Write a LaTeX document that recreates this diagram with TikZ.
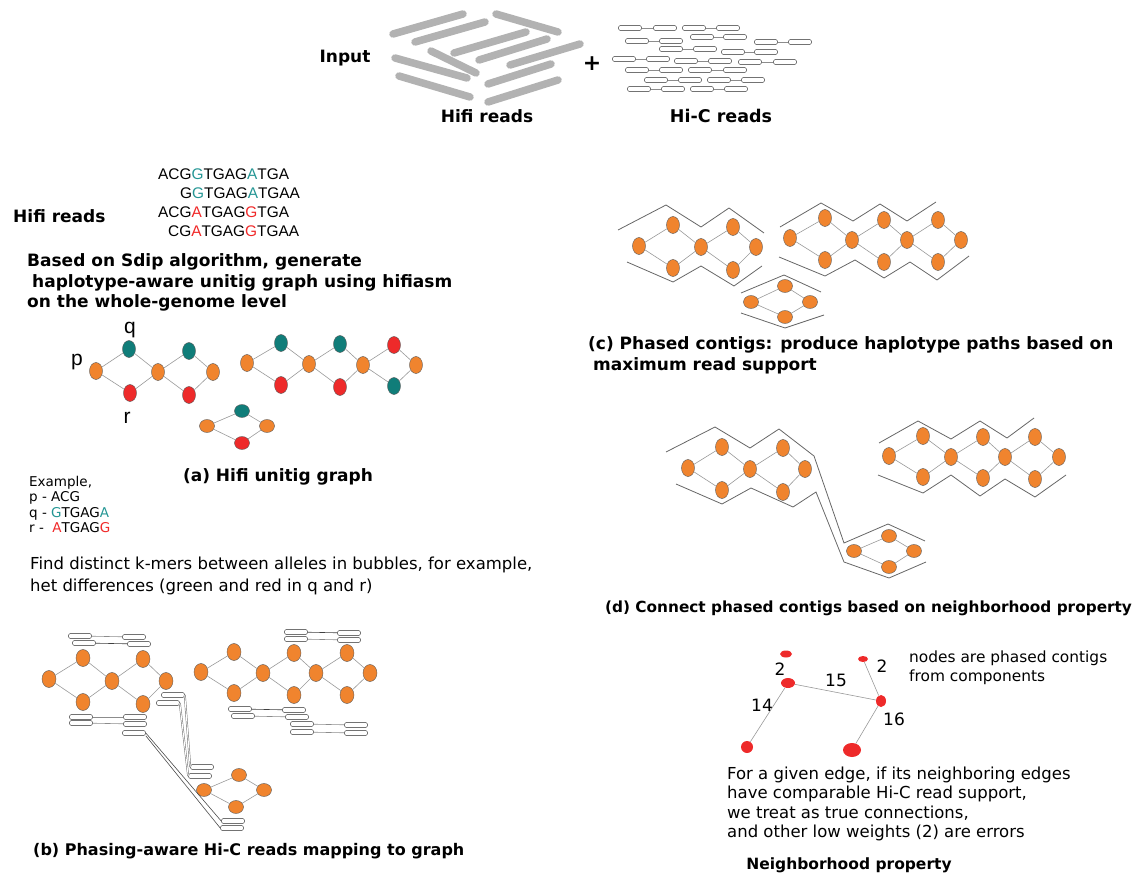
\documentclass[tikz,border=0pt]{standalone}
\usepackage{fontspec}
\setmainfont{DejaVu Sans}
\newfontfamily\arialfont{Liberation Sans}
\usetikzlibrary{shapes.geometric}
\definecolor{nodeorange}{RGB}{240,132,46}
\definecolor{nodeteal}{RGB}{16,125,121}
\definecolor{nodered}{RGB}{238,42,42}
\definecolor{seqteal}{RGB}{36,150,148}
\definecolor{seqred}{RGB}{240,40,40}
\definecolor{hifigray}{RGB}{178,178,178}

\tikzset{
  gnode/.style={ellipse, draw=black!65, line width=0.4pt, inner sep=0pt, minimum width=13pt, minimum height=17pt},
  orangenode/.style={gnode, fill=nodeorange},
  tealnode/.style={gnode, fill=nodeteal},
  rednode/.style={gnode, fill=nodered},
  flat/.style={minimum width=15pt, minimum height=13pt},
  graphedge/.style={draw=black!40, line width=0.6pt},
  pathline/.style={draw=black!60, line width=0.8pt},
  hifibar/.style={draw=hifigray, line width=7.5pt, line cap=round},
  hicread/.style={draw=black!55, line width=0.6pt, fill=white, rounded corners=1.5pt, minimum width=23pt, minimum height=5pt, inner sep=0pt},
  pairline/.style={draw=black!45, line width=0.6pt},
  longlink/.style={draw=black!60, double=white, double distance=1pt, line width=0.45pt},
  caption/.style={font=\fontsize{17}{20.5}\selectfont\bfseries, inner sep=0pt},
  bodytext/.style={font=\fontsize{16.5}{22}\selectfont, inner sep=0pt, anchor=west, align=left},
  seq/.style={font=\arialfont\fontsize{15.4}{18}\selectfont, inner sep=0pt, anchor=west},
  letter/.style={font=\arialfont\fontsize{21}{24}\selectfont, inner sep=0pt},
  weight/.style={font=\fontsize{17}{20}\selectfont, inner sep=0pt},
  contig/.style={ellipse, fill=nodered, inner sep=0pt}
}

\begin{document}
\begin{tikzpicture}[x=1pt,y=1pt,yscale=-1]
\useasboundingbox (0,0) rectangle (1137,877);

% Input
\node[caption] (input) at (345,58) {Input};
\draw[hifibar] (393,34) -- (463,14);
\draw[hifibar] (415,42) -- (485,22);
\draw[hifibar] (496,14) -- (558,32);
\draw[hifibar] (454,53) -- (526,32);
\draw[hifibar] (479,60) -- (547,39);
\draw[hifibar] (431,51) -- (476,73);
\draw[hifibar] (395,58) -- (467,78);
\draw[hifibar] (510,65) -- (580,44);
\draw[hifibar] (399,76) -- (470,97);
\draw[hifibar] (488,84) -- (551,64);
\draw[hifibar] (488,102) -- (558,80);
\node[font=\fontsize{22}{22}\selectfont\bfseries, inner sep=0pt] (plus) at (592,64) {+};

% Hi-C read pairs
\node[hicread] (t1) at (630,28) {}; \node[hicread] (t2) at (665,28) {}; \draw[pairline] (t1) -- (t2);
\node[hicread] (t3) at (694,28) {}; \node[hicread] (t4) at (728,28) {}; \draw[pairline] (t3) -- (t4);
\node[hicread] (t5) at (637,41) {}; \node[hicread] (t6) at (671,41) {}; \draw[pairline] (t5) -- (t6);
\node[hicread] (t7) at (702,37) {}; \node[hicread] (t8) at (735,37) {}; \draw[pairline] (t7) -- (t8);
\node[hicread] (t9) at (766,42) {}; \node[hicread] (t10) at (800,42) {}; \draw[pairline] (t9) -- (t10);
\node[hicread] (t11) at (671,49) {}; \node[hicread] (t12) at (705,49) {}; \draw[pairline] (t11) -- (t12);
\node[hicread] (t13) at (733,52) {}; \node[hicread] (t14) at (766,52) {}; \draw[pairline] (t13) -- (t14);
\node[hicread] (t15) at (624,59) {}; \node[hicread] (t16) at (658,59) {}; \draw[pairline] (t15) -- (t16);
\node[hicread] (t17) at (686,61) {}; \node[hicread] (t18) at (720,61) {}; \draw[pairline] (t17) -- (t18);
\node[hicread] (t19) at (750,62) {}; \node[hicread] (t20) at (785,62) {}; \draw[pairline] (t19) -- (t20);
\node[hicread] (t21) at (637,70) {}; \node[hicread] (t22) at (671,70) {}; \draw[pairline] (t21) -- (t22);
\node[hicread] (t23) at (700,70) {}; \node[hicread] (t24) at (735,70) {}; \draw[pairline] (t23) -- (t24);
\node[hicread] (t25) at (656,80) {}; \node[hicread] (t26) at (690,80) {}; \draw[pairline] (t25) -- (t26);
\node[hicread] (t27) at (719,80) {}; \node[hicread] (t28) at (753,80) {}; \draw[pairline] (t27) -- (t28);
\node[hicread] (t29) at (639,89) {}; \node[hicread] (t30) at (673,89) {}; \draw[pairline] (t29) -- (t30);
\node[hicread] (t31) at (702,89) {}; \node[hicread] (t32) at (736,89) {}; \draw[pairline] (t31) -- (t32);

\node[caption] (hifilabel) at (487,116) {Hifi reads};
\node[caption, font=\fontsize{17.5}{20.5}\selectfont\bfseries] (hiclabel) at (721,116) {Hi-C reads};

% (a) reads and unitig graph
\node[caption, anchor=west] (readslabel) at (13,216) {Hifi reads};
\node[seq] (s1) at (158,174) {ACG\textcolor{seqteal}{G}TGAG\textcolor{seqteal}{A}TGA};
\node[seq] (s2) at (180,193) {G\textcolor{seqteal}{G}TGAG\textcolor{seqteal}{A}TGAA};
\node[seq] (s3) at (158,212) {ACG\textcolor{seqred}{A}TGAG\textcolor{seqred}{G}TGA};
\node[seq] (s4) at (168,231) {CG\textcolor{seqred}{A}TGAG\textcolor{seqred}{G}TGAA};
\node[caption, anchor=west, align=left] (sdip) at (27,282.5) {Based on Sdip algorithm, generate\\\hspace{5pt}haplotype-aware unitig graph using hifiasm\\on the whole-genome level};

\node[orangenode] (a1) at (96,371) {};
\node[tealnode] (a2) at (129,349) {};
\node[rednode] (a3) at (130,393) {};
\node[orangenode] (a4) at (158,372) {};
\node[tealnode] (a5) at (189,351) {};
\node[rednode] (a6) at (189,395) {};
\node[orangenode] (a7) at (213,372) {};
\draw[graphedge] (a1) -- (a2) -- (a4) -- (a5) -- (a7) -- (a6) -- (a4) -- (a3) -- (a1);
\node[letter] (lp) at (77,362) {p};
\node[letter] (lq) at (130,330) {q};
\node[letter] (lr) at (127,418) {r};

\node[orangenode] (ab1) at (247,363) {};
\node[tealnode] (ab2) at (281,343) {};
\node[rednode] (ab3) at (281,385) {};
\node[orangenode] (ab4) at (309,364) {};
\node[tealnode] (ab5) at (340,344) {};
\node[rednode] (ab6) at (340,387) {};
\node[orangenode] (ab7) at (363,365) {};
\node[rednode] (ab8) at (394,345) {};
\node[tealnode] (ab9) at (394,386) {};
\node[orangenode] (ab10) at (416,365) {};
\draw[graphedge] (ab1) -- (ab2) -- (ab4) -- (ab5) -- (ab7) -- (ab8) -- (ab10) -- (ab9) -- (ab7) -- (ab6) -- (ab4) -- (ab3) -- (ab1);

\node[orangenode, flat] (ac1) at (207,426) {};
\node[tealnode, flat] (ac2) at (242,411) {};
\node[rednode, flat] (ac3) at (242,443) {};
\node[orangenode, flat] (ac4) at (267,426) {};
\draw[graphedge] (ac1) -- (ac2) -- (ac4) -- (ac3) -- (ac1);

\node[caption] (capa) at (278,477) {(a) Hifi unitig graph};
\node[bodytext, font=\fontsize{13.5}{15.6}\selectfont] (example) at (29,504.5) {Example,\\p - ACG\\q - \textcolor{seqteal}{G}TGAG\textcolor{seqteal}{A}\\r -\ \ \textcolor{seqred}{A}TGAG\textcolor{seqred}{G}};
\node[bodytext] (kmers) at (30,576) {Find distinct k-mers between alleles in bubbles, for example,\\het differences (green and red in q and r)};

% (b) Hi-C reads on graph
\node[orangenode, minimum width=14pt] (ba1) at (49,679) {};
\node[orangenode, minimum width=14pt] (ba2) at (83,658) {};
\node[orangenode, minimum width=14pt] (ba3) at (83,702) {};
\node[orangenode, minimum width=14pt] (ba4) at (112,681) {};
\node[orangenode, minimum width=14pt] (ba5) at (143,659) {};
\node[orangenode, minimum width=14pt] (ba6) at (143,704) {};
\node[orangenode, minimum width=14pt] (ba7) at (166,681) {};
\draw[graphedge] (ba1) -- (ba2) -- (ba4) -- (ba5) -- (ba7) -- (ba6) -- (ba4) -- (ba3) -- (ba1);

\node[orangenode, minimum width=14pt] (bb1) at (201,672) {};
\node[orangenode, minimum width=14pt] (bb2) at (234,652) {};
\node[orangenode, minimum width=14pt] (bb3) at (234,693) {};
\node[orangenode, minimum width=14pt] (bb4) at (263,673) {};
\node[orangenode, minimum width=14pt] (bb5) at (294,653) {};
\node[orangenode, minimum width=14pt] (bb6) at (294,695) {};
\node[orangenode, minimum width=14pt] (bb7) at (316,673) {};
\node[orangenode, minimum width=14pt] (bb8) at (347,653) {};
\node[orangenode, minimum width=14pt] (bb9) at (347,695) {};
\node[orangenode, minimum width=14pt] (bb10) at (370,673) {};
\draw[graphedge] (bb1) -- (bb2) -- (bb4) -- (bb5) -- (bb7) -- (bb8) -- (bb10) -- (bb9) -- (bb7) -- (bb6) -- (bb4) -- (bb3) -- (bb1);

\node[orangenode, flat] (bc1) at (204,790) {};
\node[orangenode, flat] (bc2) at (239,775) {};
\node[orangenode, flat] (bc3) at (236,807) {};
\node[orangenode, flat] (bc4) at (264,790) {};
\draw[graphedge] (bc1) -- (bc2) -- (bc4) -- (bc3) -- (bc1);

\node[hicread] (r1) at (80,636) {}; \node[hicread] (r2) at (134,637) {}; \draw[pairline] (r1) -- (r2);
\node[hicread] (r3) at (84,643) {}; \node[hicread] (r4) at (139,644) {}; \draw[pairline, draw=black!75] (r3) -- (r4);
\node[hicread] (r5) at (81,717) {}; \node[hicread] (r6) at (135,717) {}; \draw[pairline] (r5) -- (r6);
\node[hicread] (r7) at (81,723) {}; \node[hicread] (r8) at (135,724) {}; \draw[pairline] (r7) -- (r8);
\node[hicread] (r9) at (134,733) {};
\node[hicread] (u1) at (173,695) {};
\node[hicread] (u2) at (168,703) {};
\node[hicread] (v1) at (202,767) {};
\node[hicread] (v2) at (200,776) {};
\node[hicread] (w1) at (233,821) {};
\node[hicread] (w2) at (232,828) {};
\draw[longlink] (u1.east) -- (v1.west);
\draw[longlink] (u2.east) -- (v2.west);
\draw[pairline, draw=black!70] (r9.east) -- (w1.west);
\draw[pairline, draw=black!70] (r9.south east) -- (w2.west);
\node[hicread] (r10) at (296,632) {}; \node[hicread] (r11) at (349,633) {}; \draw[pairline, draw=black!75] (r10) -- (r11);
\node[hicread] (r12) at (296,639) {}; \node[hicread] (r13) at (349,640) {}; \draw[pairline] (r12) -- (r13);
\node[hicread] (r14) at (240,709) {}; \node[hicread] (r15) at (294,710) {}; \draw[pairline, draw=black!75] (r14) -- (r15);
\node[hicread] (r16) at (243,716) {}; \node[hicread] (r17) at (297,717) {}; \draw[pairline] (r16) -- (r17);
\node[hicread] (r18) at (302,724) {}; \node[hicread] (r19) at (356,725) {}; \draw[pairline] (r18) -- (r19);
\node[hicread] (r20) at (302,732) {}; \node[hicread] (r21) at (356,733) {}; \draw[pairline] (r20) -- (r21);

\node[caption, anchor=west, font=\fontsize{16}{20}\selectfont\bfseries] (capb) at (33,851) {(b) Phasing-aware Hi-C reads mapping to graph};

% (c) phased contigs
\node[orangenode] (ca1) at (639,246) {};
\node[orangenode] (ca2) at (673,225) {};
\node[orangenode] (ca3) at (673,268) {};
\node[orangenode] (ca4) at (701,247) {};
\node[orangenode] (ca5) at (733,227) {};
\node[orangenode] (ca6) at (733,270) {};
\node[orangenode] (ca7) at (756,247) {};
\draw[graphedge] (ca1) -- (ca2) -- (ca4) -- (ca5) -- (ca7) -- (ca6) -- (ca4) -- (ca3) -- (ca1);
\draw[pathline] (618,230) -- (666,205) -- (701,227) -- (729,208) -- (764,233);
\draw[pathline] (627,262) -- (673,282) -- (701,266) -- (734,286) -- (762,266);

\node[orangenode] (cb1) at (790,238) {};
\node[orangenode] (cb2) at (825,218) {};
\node[orangenode] (cb3) at (825,260) {};
\node[orangenode] (cb4) at (852,240) {};
\node[orangenode] (cb5) at (884,220) {};
\node[orangenode] (cb6) at (884,262) {};
\node[orangenode] (cb7) at (907,240) {};
\node[orangenode] (cb8) at (938,220) {};
\node[orangenode] (cb9) at (938,262) {};
\node[orangenode] (cb10) at (961,240) {};
\draw[graphedge] (cb1) -- (cb2) -- (cb4) -- (cb5) -- (cb7) -- (cb8) -- (cb10) -- (cb9) -- (cb7) -- (cb6) -- (cb4) -- (cb3) -- (cb1);
\draw[pathline] (780,227) -- (821,203) -- (853,221) -- (880,204) -- (907,221) -- (936,202);
\draw[pathline] (779,257) -- (825,276) -- (855,260) -- (884,278) -- (910,262) -- (937,280) -- (969,256);

\node[orangenode, flat] (cc1) at (751,302) {};
\node[orangenode, flat] (cc2) at (785,286) {};
\node[orangenode, flat] (cc3) at (785,317) {};
\node[orangenode, flat] (cc4) at (810,302) {};
\draw[graphedge] (cc1) -- (cc2) -- (cc4) -- (cc3) -- (cc1);
\draw[pathline] (741,293) -- (784,275) -- (821,292);
\draw[pathline] (741,313) -- (785,328) -- (824,315);

\node[caption, anchor=west, align=left] (capc) at (588,355.5) {(c) Phased contigs: produce haplotype paths based on\\\hspace{5pt}maximum read support};

% (d) connected contigs
\node[orangenode] (da1) at (688,468) {};
\node[orangenode] (da2) at (722,447) {};
\node[orangenode] (da3) at (722,490) {};
\node[orangenode] (da4) at (750,469) {};
\node[orangenode] (da5) at (783,448) {};
\node[orangenode] (da6) at (783,492) {};
\node[orangenode] (da7) at (805,469) {};
\draw[graphedge] (da1) -- (da2) -- (da4) -- (da5) -- (da7) -- (da6) -- (da4) -- (da3) -- (da1);

\node[orangenode] (db1) at (889,456) {};
\node[orangenode] (db2) at (923,436) {};
\node[orangenode] (db3) at (923,477) {};
\node[orangenode] (db4) at (951,457) {};
\node[orangenode] (db5) at (983,437) {};
\node[orangenode] (db6) at (983,478) {};
\node[orangenode] (db7) at (1005,457) {};
\node[orangenode] (db8) at (1035,437) {};
\node[orangenode] (db9) at (1035,479) {};
\node[orangenode] (db10) at (1059,457) {};
\draw[graphedge] (db1) -- (db2) -- (db4) -- (db5) -- (db7) -- (db8) -- (db10) -- (db9) -- (db7) -- (db6) -- (db4) -- (db3) -- (db1);
\draw[pathline] (879,443) -- (918,421) -- (951,439) -- (980,421) -- (1007,438) -- (1034,418);
\draw[pathline] (878,475) -- (923,493) -- (951,475) -- (980,496) -- (1005,479) -- (1035,497) -- (1066,475);

\node[orangenode, flat] (dc1) at (854,551) {};
\node[orangenode, flat] (dc2) at (889,536) {};
\node[orangenode, flat] (dc3) at (889,567) {};
\node[orangenode, flat] (dc4) at (914,551) {};
\draw[graphedge] (dc1) -- (dc2) -- (dc4) -- (dc3) -- (dc1);
\draw[pathline] (666,452) -- (715,427) -- (750,448) -- (779,429) -- (814,456) -- (844,543) -- (888,524) -- (925,541);
\draw[pathline] (676,484) -- (722,504) -- (751,488) -- (793,507) -- (816,492) -- (844,562) -- (889,578) -- (926,562);

\node[caption, anchor=west, font=\fontsize{15.3}{18}\selectfont\bfseries] (capd) at (605,608) {(d) Connect phased contigs based on neighborhood property};

% neighborhood property
\node[contig, minimum width=12pt, minimum height=7pt] (n1) at (786,654) {};
\node[contig, minimum width=14pt, minimum height=10pt] (n2) at (788,683) {};
\node[contig, minimum width=10pt, minimum height=6pt] (n3) at (863,659) {};
\node[contig, minimum width=10pt, minimum height=12pt] (n4) at (881,701) {};
\node[contig, minimum width=12pt, minimum height=12pt] (n5) at (747,747) {};
\node[contig, minimum width=18pt, minimum height=14pt] (n6) at (852,750) {};
\draw[graphedge] (n2) -- (n4);
\draw[graphedge] (n2) -- (n5);
\draw[graphedge] (n4) -- (n3);
\draw[graphedge] (n4) -- (n6);
\node[weight] (w12) at (780,669) {2};
\node[weight] (w34) at (882,666) {2};
\node[weight] (w24) at (836,680) {15};
\node[weight] (w25) at (762,705) {14};
\node[weight] (w46) at (894,719) {16};
\node[bodytext, font=\fontsize{15.4}{19}\selectfont] (nodesnote) at (909,667.5) {nodes are phased contigs\\from components};
\node[bodytext, font=\fontsize{16.5}{19.3}\selectfont] (edgenote) at (727,804) {For a given edge, if its neighboring edges\\have comparable Hi-C read support,\\we treat as true connections,\\and other low weights (2) are errors};
\node[caption, font=\fontsize{15.5}{18}\selectfont\bfseries] (neigh) at (849,865) {Neighborhood property};
\end{tikzpicture}
\end{document}
